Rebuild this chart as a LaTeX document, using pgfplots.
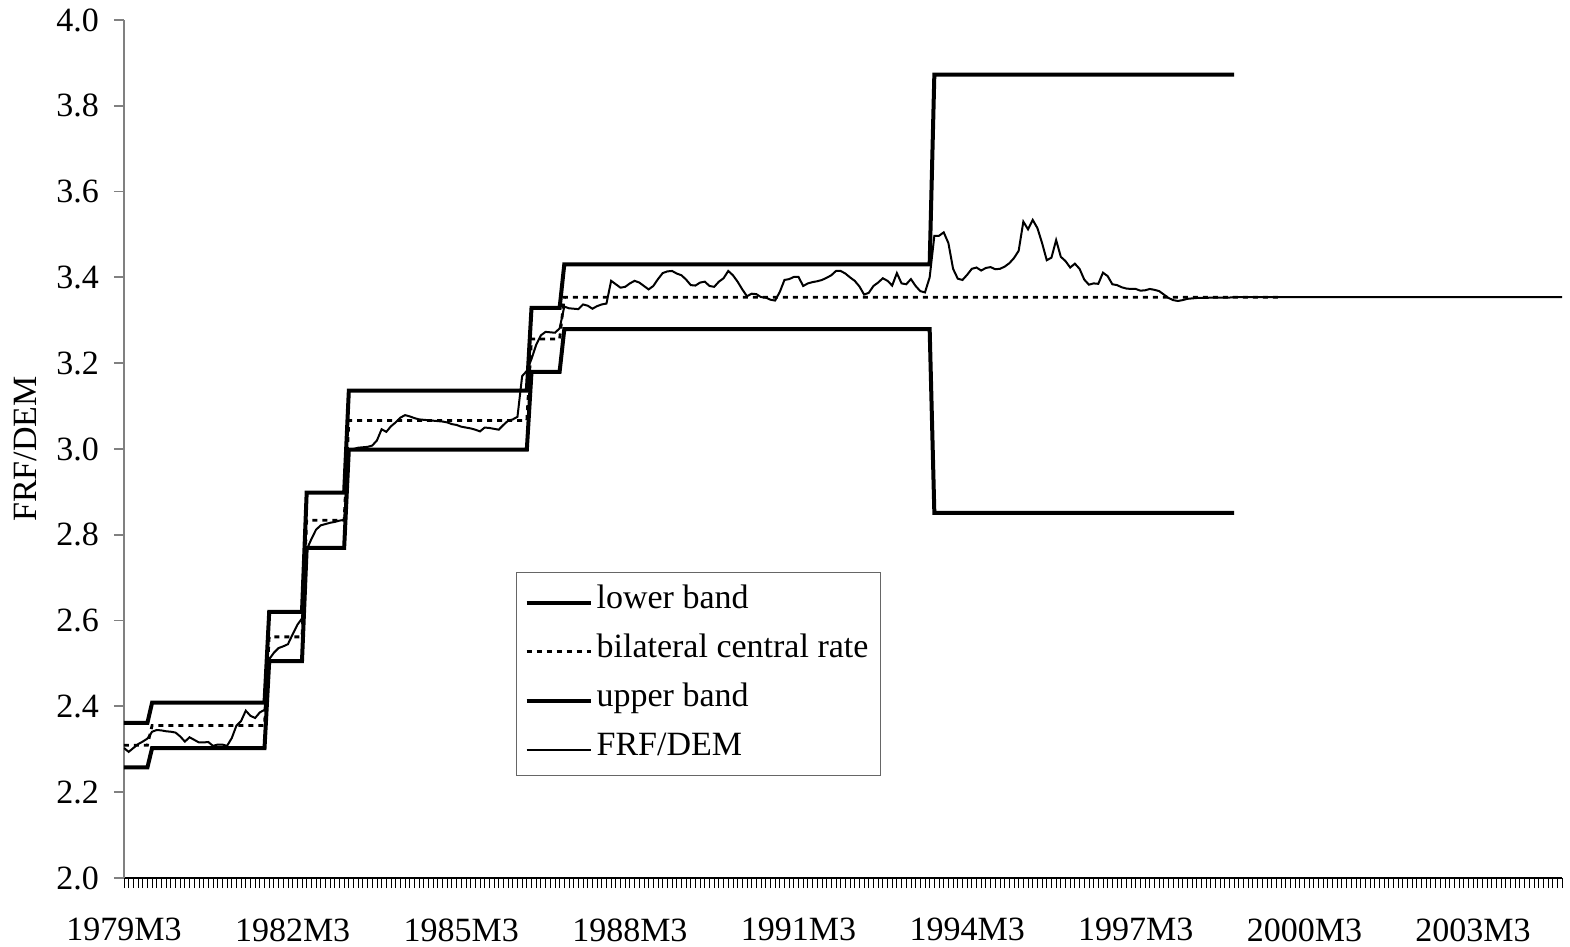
\documentclass[border=0pt]{standalone}
\usepackage{fontspec}
\setmainfont{Liberation Serif}
\usepackage{pgfplots}
\pgfplotsset{compat=1.18}

\begin{document}
\begin{tikzpicture}
\begin{axis}[
  scale only axis, width=719pt, height=429pt,
  xmin=0, xmax=307, ymin=2, ymax=4,
  axis x line*=bottom, axis y line*=left,
  x axis line style={black, line width=0.6pt},
  y axis line style={gray, line width=0.9pt},
  tick align=outside,
  xtick={0,36,72,108,144,180,216,252,288},
  xticklabels={1979M3,1982M3,1985M3,1988M3,1991M3,1994M3,1997M3,2000M3,2003M3},
  minor xtick={0,...,307},
  ytick={2.0,2.2,2.4,2.6,2.8,3.0,3.2,3.4,3.6,3.8,4.0},
  major tick length=5pt, minor tick length=5pt,
  xtick style={black, line width=0.4pt},
  minor tick style={black, line width=0.4pt},
  ytick style={gray, line width=0.9pt},
  yticklabel style={xshift=-4pt, /pgf/number format/.cd, fixed, fixed zerofill, precision=1},
  xticklabel style={yshift=-15pt, inner ysep=0pt},
  /pgf/number format/assume math mode=true,
  tick label style={font=\fontsize{17}{20}\selectfont},
  ylabel={FRF/DEM},
  ylabel style={font=\fontsize{17}{20}\selectfont, at={(axis description cs:-0.0688,0.5)}, anchor=center},
  legend style={at={(axis description cs:0.2726,0.3566)}, anchor=north west,
    draw=gray!80!black, line width=0.6pt, font=\fontsize{17}{20}\selectfont,
    nodes={text height=12pt, text depth=4pt, inner sep=2pt},
    row sep=4.5pt, inner xsep=4pt, inner ysep=4pt},
  legend cell align=left,
  legend image code/.code={\draw[#1] (0pt,-1pt) -- (32pt,-1pt);},
]
\addplot[black, line width=2pt, line join=miter] coordinates {
(0,2.2577)(5,2.2577)(6,2.3029)(30,2.3029)(31,2.5056)(38,2.5056)(39,2.7695)(47,2.7695)
(48,2.9987)(86,2.9987)(87,3.1800)(93,3.1800)(94,3.2792)(172,3.2792)(173,2.8510)(237,2.8510)};
\addlegendentry{lower band}
\addplot[black, line width=1.4pt, dash pattern=on 2.5pt off 2.5pt] coordinates {
(0,2.3095)(5,2.3095)(6,2.3557)(30,2.3557)(31,2.5621)(38,2.5621)(39,2.8340)(47,2.8340)
(48,3.0665)(86,3.0665)(87,3.2566)(93,3.2566)(94,3.3539)(247,3.3539)};
\addlegendentry{bilateral central rate}
\addplot[black, line width=2pt, line join=miter] coordinates {
(0,2.3616)(5,2.3616)(6,2.4088)(30,2.4088)(31,2.6201)(38,2.6201)(39,2.8984)(47,2.8984)
(48,3.1359)(86,3.1359)(87,3.3289)(93,3.3289)(94,3.4305)(172,3.4305)(173,3.8727)(237,3.8727)};
\addlegendentry{upper band}
\addplot[black, line width=1pt] table {
m v
0 2.303
1 2.294
2 2.303
3 2.312
4 2.318
5 2.325
6 2.341
7 2.345
8 2.344
9 2.342
10 2.341
11 2.339
12 2.330
13 2.318
14 2.328
15 2.322
16 2.316
17 2.316
18 2.317
19 2.308
20 2.311
21 2.311
22 2.308
23 2.326
24 2.355
25 2.366
26 2.390
27 2.378
28 2.373
29 2.386
30 2.392
31 2.510
32 2.525
33 2.536
34 2.540
35 2.545
36 2.568
37 2.590
38 2.605
39 2.765
40 2.790
41 2.812
42 2.822
43 2.825
44 2.828
45 2.830
46 2.833
47 2.835
48 2.998
49 3.000
50 3.003
51 3.004
52 3.005
53 3.008
54 3.020
55 3.046
56 3.040
57 3.053
58 3.062
59 3.073
60 3.079
61 3.076
62 3.072
63 3.069
64 3.068
65 3.067
66 3.066
67 3.065
68 3.064
69 3.062
70 3.058
71 3.056
72 3.052
73 3.050
74 3.048
75 3.045
76 3.041
77 3.050
78 3.049
79 3.047
80 3.045
81 3.056
82 3.066
83 3.069
84 3.075
85 3.170
86 3.182
87 3.210
88 3.243
89 3.265
90 3.273
91 3.272
92 3.271
93 3.281
94 3.332
95 3.328
96 3.327
97 3.326
98 3.337
99 3.334
100 3.327
101 3.333
102 3.337
103 3.339
104 3.392
105 3.384
106 3.376
107 3.378
108 3.386
109 3.392
110 3.388
111 3.380
112 3.372
113 3.380
114 3.396
115 3.410
116 3.414
117 3.415
118 3.409
119 3.405
120 3.395
121 3.382
122 3.381
123 3.388
124 3.390
125 3.380
126 3.378
127 3.390
128 3.398
129 3.415
130 3.405
131 3.390
132 3.372
133 3.356
134 3.362
135 3.361
136 3.354
137 3.353
138 3.348
139 3.346
140 3.366
141 3.394
142 3.396
143 3.401
144 3.401
145 3.380
146 3.386
147 3.389
148 3.391
149 3.394
150 3.399
151 3.405
152 3.415
153 3.415
154 3.409
155 3.400
156 3.392
157 3.379
158 3.360
159 3.364
160 3.380
161 3.388
162 3.398
163 3.392
164 3.381
165 3.410
166 3.386
167 3.384
168 3.396
169 3.380
170 3.368
171 3.365
172 3.400
173 3.497
174 3.497
175 3.505
176 3.480
177 3.420
178 3.397
179 3.394
180 3.406
181 3.420
182 3.423
183 3.416
184 3.422
185 3.424
186 3.419
187 3.420
188 3.425
189 3.433
190 3.445
191 3.462
192 3.530
193 3.512
194 3.534
195 3.515
196 3.480
197 3.440
198 3.446
199 3.487
200 3.448
201 3.438
202 3.423
203 3.432
204 3.420
205 3.395
206 3.383
207 3.386
208 3.385
209 3.411
210 3.403
211 3.384
212 3.382
213 3.377
214 3.374
215 3.373
216 3.373
217 3.369
218 3.370
219 3.373
220 3.371
221 3.368
222 3.360
223 3.352
224 3.347
225 3.345
226 3.347
227 3.350
228 3.351
229 3.352
230 3.352
231 3.352
232 3.353
233 3.353
234 3.353
235 3.353
236 3.353
237 3.354
238 3.35386
307 3.35386
};
\addlegendentry{FRF/DEM}
\end{axis}
\pgfresetboundingbox
\path ([shift={(-62pt,-34pt)}]current axis.south west) rectangle ([shift={(4pt,10pt)}]current axis.north east);
\end{tikzpicture}
\end{document}
